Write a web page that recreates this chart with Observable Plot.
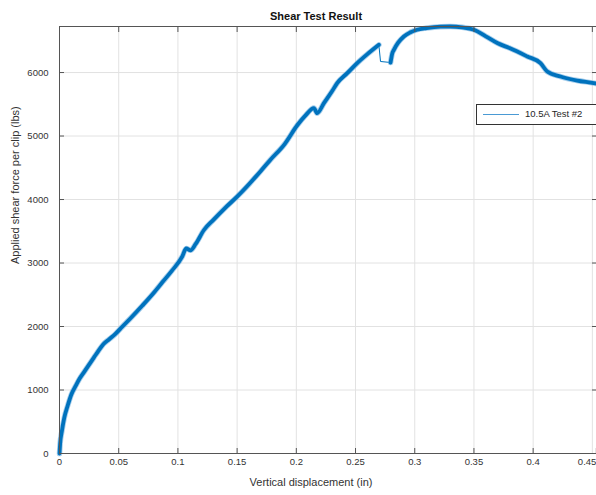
<!DOCTYPE html>
<html>
<head>
<meta charset="utf-8">
<script src="https://cdn.jsdelivr.net/npm/d3@7"></script>
<script src="https://cdn.jsdelivr.net/npm/@observablehq/plot@0.6"></script>
<style>
  html, body { margin: 0; padding: 0; background: white; overflow: hidden; }
  #wrap { position: relative; width: 596px; height: 495px; overflow: hidden; }
  #legend { position: absolute; left: 476px; top: 104px; width: 130px; height: 21px;
    border: 1px solid #333; background: white; box-sizing: border-box;
    font-family: "Liberation Sans", Arial, sans-serif; font-size: 9.5px; color: #262626; }
  #legend .ln { position: absolute; left: 6px; top: 8.5px; width: 36px; height: 1.5px; background: #4a9ad4; }
  #legend .tx { position: absolute; left: 48px; top: 3px; white-space: nowrap; }
</style>
</head>
<body>
<div id="wrap"></div>
<script>
// Tick values
const xTicks = [0, 0.05, 0.1, 0.15, 0.2, 0.25, 0.3, 0.35, 0.4, 0.45];
const yTicks = [0, 1000, 2000, 3000, 4000, 5000, 6000];

// Segment 1 (dense, before the drop)
const seg1X = [0, 0.0005, 0.002, 0.004, 0.007, 0.010, 0.0135, 0.017, 0.021, 0.025, 0.029, 0.033, 0.037, 0.042, 0.047, 0.053, 0.06, 0.07, 0.08, 0.087, 0.095, 0.1036, 0.107, 0.1106, 0.115, 0.122, 0.13, 0.14, 0.15, 0.16, 0.17, 0.178, 0.19, 0.2008, 0.208, 0.2148, 0.2176, 0.2233, 0.23, 0.2345, 0.243, 0.2514, 0.26, 0.2697];
const seg1Y = [0, 150, 350, 560, 760, 930, 1060, 1180, 1290, 1400, 1510, 1620, 1720, 1800, 1880, 1996, 2130, 2330, 2540, 2700, 2880, 3100, 3230, 3200, 3300, 3520, 3680, 3870, 4045, 4240, 4450, 4624, 4870, 5170, 5330, 5440, 5360, 5518, 5700, 5833, 5990, 6148, 6290, 6437];

// Sparse jump segment
const gapX = [0.2697, 0.2711, 0.2796];
const gapY = [6437, 6174, 6158];

// Segment 2 (dense, after the drop)
const seg2X = [0.2796, 0.2810, 0.2824, 0.286, 0.2908, 0.296, 0.302, 0.31, 0.3218, 0.33, 0.34, 0.35, 0.36, 0.3697, 0.38, 0.395, 0.4062, 0.4119, 0.4231, 0.4372, 0.4513, 0.4535];
const seg2Y = [6158, 6300, 6358, 6470, 6568, 6630, 6674, 6700, 6722, 6725, 6712, 6674, 6570, 6464, 6385, 6253, 6148, 6016, 5937, 5874, 5833, 5825];

const title = "Shear Test Result";
const xLabel = "Vertical displacement (in)";
const yLabel = "Applied shear force per clip (lbs)";
const seriesName = "10.5A Test #2";

const dense = [
  ...seg1X.map((x, i) => ({x, y: seg1Y[i], seg: 1})),
  ...seg2X.map((x, i) => ({x, y: seg2Y[i], seg: 2}))
];
const gap = gapX.map((x, i) => ({x, y: gapY[i]}));

const blue = "#0072BD";
const axisCol = "#555";
const lastX = xTicks[xTicks.length - 1];
const innerX = xTicks.slice(0, -1);

const chart = Plot.plot({
  width: 596, height: 495,
  marginLeft: 59, marginTop: 26, marginRight: 0, marginBottom: 42,
  x: {domain: [0, 0.4535]},
  y: {domain: [0, 6725]},
  style: {fontFamily: "'Liberation Sans', Arial, sans-serif", fontSize: "9.5px", color: "#333", background: "white"},
  marks: [
    Plot.gridX(xTicks, {stroke: "#e2e2e2", strokeOpacity: 1}),
    Plot.gridY(yTicks, {stroke: "#e2e2e2", strokeOpacity: 1}),
    Plot.line(gap, {x: "x", y: "y", stroke: blue, strokeWidth: 1}),
    Plot.line(dense, {x: "x", y: "y", z: "seg", curve: "monotone-x", stroke: "#6aaee0", strokeWidth: 5.5, strokeOpacity: 0.6}),
    Plot.line(dense, {x: "x", y: "y", z: "seg", curve: "monotone-x", stroke: blue, strokeWidth: 3.8}),
    Plot.frame({stroke: axisCol}),
    Plot.axisX(innerX, {anchor: "bottom", tickSize: -5, tickPadding: 10, label: null, stroke: axisCol, tickFormat: d => String(d)}),
    Plot.axisX([lastX], {anchor: "bottom", tickSize: -5, tickPadding: 10, label: null, stroke: axisCol, textAnchor: "end", dx: 4, tickFormat: d => String(d)}),
    Plot.axisX(xTicks, {anchor: "top", tickSize: -5, label: null, stroke: axisCol, tickFormat: () => ""}),
    Plot.axisY(yTicks, {anchor: "left", tickSize: -5, tickPadding: 16, label: null, stroke: axisCol, tickFormat: d => String(d)}),
    Plot.axisY(yTicks, {anchor: "right", tickSize: -5, label: null, stroke: axisCol, tickFormat: () => ""}),
    Plot.text([title], {frameAnchor: "top", dx: -12, dy: -14, text: d => d, fontWeight: "bold", fontSize: 11, fill: "#111"}),
    Plot.text([xLabel], {frameAnchor: "bottom", dx: -17, dy: 32, text: d => d, fontSize: 11, fill: "#333"}),
    Plot.text([yLabel], {frameAnchor: "left", dx: -44, dy: 24, rotate: -90, text: d => d, fontSize: 11, fill: "#333"})
  ]
});

const wrap = document.getElementById("wrap");
wrap.appendChild(chart);
const lg = document.createElement("div");
lg.id = "legend";
lg.innerHTML = `<div class="ln"></div><div class="tx">${seriesName}</div>`;
wrap.appendChild(lg);
</script>
</body>
</html>
